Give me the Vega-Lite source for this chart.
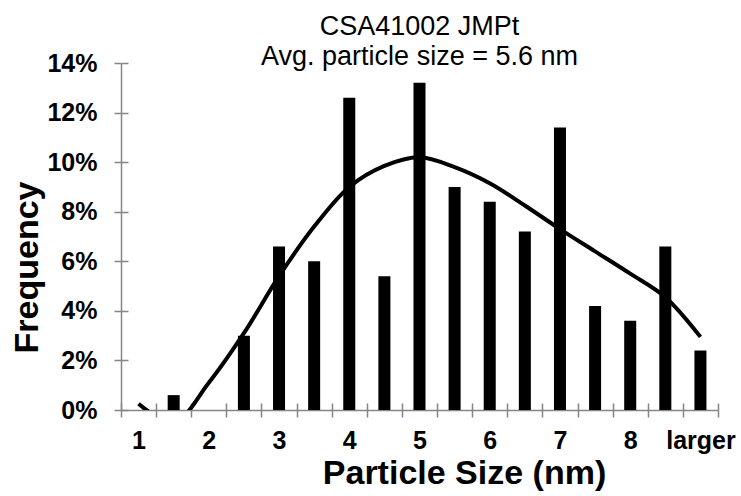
{
  "$schema": "https://vega.github.io/schema/vega-lite/v6.json",
  "autosize": {"type": "none"},
  "padding": {"left": 121, "top": 63, "right": 23, "bottom": 86},
  "width": 597,
  "height": 347,
  "background": "white",
  "title": {
    "text": ["CSA41002 JMPt", "Avg. particle size = 5.6 nm"],
    "font": "Liberation Sans",
    "fontSize": 27,
    "fontWeight": "normal",
    "color": "black",
    "anchor": "middle",
    "frame": "group",
    "baseline": "bottom",
    "lineHeight": 30,
    "offset": -47
  },
  "data": {
    "values": [
      {"size": "1", "freq": 0, "fit": 0.0025},
      {"size": "1.5", "freq": 0.006, "fit": -0.005},
      {"size": "2", "freq": 0, "fit": 0.011},
      {"size": "2.5", "freq": 0.03, "fit": 0.031},
      {"size": "3", "freq": 0.066, "fit": 0.054},
      {"size": "3.5", "freq": 0.06, "fit": 0.074},
      {"size": "4", "freq": 0.126, "fit": 0.09},
      {"size": "4.5", "freq": 0.054, "fit": 0.0985},
      {"size": "5", "freq": 0.132, "fit": 0.102},
      {"size": "5.5", "freq": 0.09, "fit": 0.098},
      {"size": "6", "freq": 0.084, "fit": 0.0915},
      {"size": "6.5", "freq": 0.072, "fit": 0.0825},
      {"size": "7", "freq": 0.114, "fit": 0.073},
      {"size": "7.5", "freq": 0.042, "fit": 0.064},
      {"size": "8", "freq": 0.036, "fit": 0.055},
      {"size": "8.5", "freq": 0.066, "fit": 0.0455},
      {"size": "larger", "freq": 0.024, "fit": 0.0295}
    ]
  },
  "config": {
    "view": {"stroke": null},
    "axis": {
      "labelFont": "Liberation Sans",
      "labelFontWeight": "bold",
      "labelColor": "black",
      "titleFont": "Liberation Sans",
      "titleFontWeight": "bold",
      "titleColor": "black",
      "domainColor": "#868686",
      "domainWidth": 1.5,
      "tickColor": "#868686",
      "tickWidth": 1.5,
      "grid": false
    }
  },
  "layer": [
    {
      "mark": {"type": "bar", "color": "black", "width": {"band": 0.342}},
      "encoding": {
        "x": {
          "field": "size",
          "type": "ordinal",
          "sort": null,
          "scale": {"paddingInner": 0, "paddingOuter": 0},
          "axis": {
            "title": "Particle Size (nm)",
            "titleFontSize": 34,
            "titleX": 343,
            "titleY": 73,
            "titleAlign": "center",
            "titleBaseline": "alphabetic",
            "labelFontSize": 25,
            "labelAngle": 0,
            "labelPadding": 11,
            "tickBand": "extent",
            "tickSize": 7,
            "labelExpr": "indexof(datum.label, '.') >= 0 ? '' : datum.label"
          }
        },
        "y": {
          "field": "freq",
          "type": "quantitative",
          "scale": {"domain": [0, 0.14], "nice": false},
          "axis": {
            "title": "Frequency",
            "titleFontSize": 34,
            "titleAngle": 270,
            "titleX": -84,
            "titleY": 204,
            "titleAlign": "center",
            "titleBaseline": "alphabetic",
            "labelFontSize": 25,
            "format": ".0%",
            "values": [0, 0.02, 0.04, 0.06, 0.08, 0.1, 0.12, 0.14],
            "tickSize": 7,
            "labelPadding": 17
          }
        }
      }
    },
    {
      "mark": {"type": "line", "color": "black", "strokeWidth": 4, "interpolate": "catmull-rom", "clip": true},
      "encoding": {
        "x": {
          "field": "size",
          "type": "ordinal",
          "sort": null,
          "axis": {
            "orient": "bottom",
            "title": null,
            "labels": false,
            "domain": false,
            "tickBand": "extent",
            "tickSize": -7
          }
        },
        "y": {
          "field": "fit",
          "type": "quantitative",
          "scale": {"domain": [0, 0.14], "nice": false},
          "axis": {
            "orient": "left",
            "title": null,
            "labels": false,
            "domain": false,
            "values": [0, 0.02, 0.04, 0.06, 0.08, 0.1, 0.12, 0.14],
            "tickSize": -7
          }
        }
      }
    }
  ],
  "resolve": {"axis": {"x": "independent", "y": "independent"}}
}
